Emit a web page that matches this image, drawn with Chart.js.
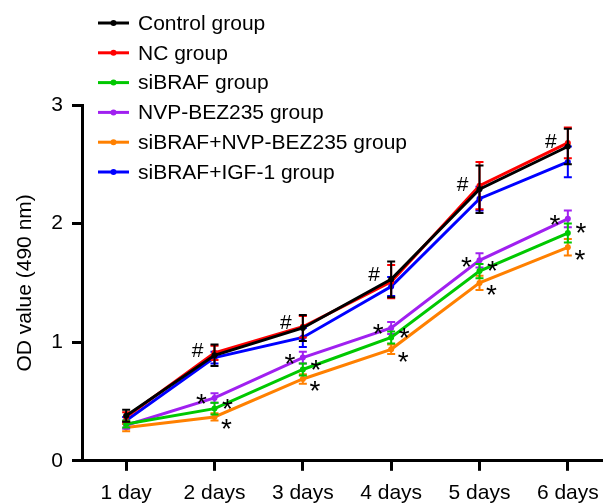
<!DOCTYPE html>
<html>
<head>
<meta charset="utf-8">
<script src="https://cdn.jsdelivr.net/npm/chart.js"></script>
<style>
html, body { margin: 0; padding: 0; background: #fff; overflow: hidden; }
#wrap { width: 603px; height: 503px; overflow: hidden; }
</style>
</head>
<body>
<div id="wrap"><canvas id="chart" width="640" height="516"></canvas></div>
<script>
const days = ['1 day', '2 days', '3 days', '4 days', '5 days', '6 days'];
const yTicks = [0, 1, 2, 3];

const control = [0.38, 0.89, 1.12, 1.53, 2.29, 2.65];
const controlErr = [0.05, 0.09, 0.11, 0.15, 0.20, 0.15];
const nc = [0.37, 0.91, 1.13, 1.51, 2.32, 2.68];
const ncErr = [0.04, 0.06, 0.09, 0.14, 0.20, 0.13];
const sibraf = [0.31, 0.44, 0.77, 1.04, 1.60, 1.92];
const sibrafErr = [0.03, 0.05, 0.05, 0.05, 0.06, 0.08];
const nvp = [0.30, 0.53, 0.87, 1.12, 1.69, 2.04];
const nvpErr = [0.03, 0.04, 0.05, 0.05, 0.06, 0.07];
const combo = [0.28, 0.37, 0.69, 0.94, 1.50, 1.80];
const comboErr = [0.03, 0.03, 0.04, 0.04, 0.06, 0.07];
const igf = [0.34, 0.87, 1.04, 1.47, 2.21, 2.52];
const igfErr = [0.03, 0.05, 0.08, 0.08, 0.10, 0.13];

const FONT = 'Liberation Sans, Arial, Helvetica, sans-serif';

function serie(label, data, errors, color, marks) {
  return {
    label: label,
    data: data,
    errors: errors,
    marks: marks,
    borderColor: color,
    backgroundColor: color,
    borderWidth: 3,
    pointRadius: 3,
    pointHoverRadius: 3,
    pointBorderWidth: 0,
    tension: 0
  };
}

// error bars, drawn right after each line so the stacking order stays the same
const errorBars = {
  id: 'errorBars',
  afterDatasetDraw(chart, args) {
    const ds = chart.data.datasets[args.index];
    const y = chart.scales.y;
    const c = chart.ctx;
    c.save();
    c.strokeStyle = ds.borderColor;
    c.lineWidth = 2;
    args.meta.data.forEach(function (pt, i) {
      const top = y.getPixelForValue(ds.data[i] + ds.errors[i]);
      const bot = y.getPixelForValue(ds.data[i] - ds.errors[i]);
      c.beginPath();
      c.moveTo(pt.x, top); c.lineTo(pt.x, bot);
      c.moveTo(pt.x - 4, top); c.lineTo(pt.x + 4, top);
      c.moveTo(pt.x - 4, bot); c.lineTo(pt.x + 4, bot);
      c.stroke();
    });
    c.restore();
  }
};

// # and * signs next to the points
const signs = {
  id: 'signs',
  afterDraw(chart) {
    const c = chart.ctx;
    c.save();
    c.fillStyle = '#000';
    c.textAlign = 'center';
    c.textBaseline = 'alphabetic';
    chart.data.datasets.forEach(function (ds, d) {
      if (!ds.marks) return;
      const m = ds.marks;
      c.font = m.size + 'px ' + FONT;
      chart.getDatasetMeta(d).data.forEach(function (pt, i) {
        if (i < 1) return;
        c.fillText(m.sign, pt.x + m.dx, pt.y + m.dy + m.shift * m.size);
      });
    });
    c.restore();
  }
};

const legendBox = {
  id: 'legendBox',
  afterDraw(chart) {
    const c = chart.ctx;
    c.save();
    c.font = '21px ' + FONT;
    c.textBaseline = 'middle';
    c.textAlign = 'left';
    chart.data.datasets.forEach(function (ds, i) {
      const y = 23 + i * 29.8;
      c.strokeStyle = ds.borderColor;
      c.lineWidth = 3;
      c.beginPath();
      c.moveTo(98, y); c.lineTo(129, y);
      c.stroke();
      c.fillStyle = ds.borderColor;
      c.beginPath();
      c.arc(113.5, y, 3, 0, Math.PI * 2);
      c.fill();
      c.fillStyle = '#000';
      c.fillText(ds.label, 138, y + 1);
    });
    c.restore();
  }
};

const ctx = document.getElementById('chart');
new Chart(ctx, {
  type: 'line',
  data: {
    labels: days,
    datasets: [
      serie('Control group', control, controlErr, '#000000', {sign: '#', dx: -17, dy: -6, size: 21, shift: 0.35}),
      serie('NC group', nc, ncErr, '#ff0000'),
      serie('siBRAF group', sibraf, sibrafErr, '#00c800', {sign: '*', dx: 13, dy: -7, size: 28, shift: 0.58}),
      serie('NVP-BEZ235 group', nvp, nvpErr, '#a020f0', {sign: '*', dx: -13, dy: -1, size: 28, shift: 0.58}),
      serie('siBRAF+NVP-BEZ235 group', combo, comboErr, '#ff8000', {sign: '*', dx: 12, dy: 5, size: 28, shift: 0.58}),
      serie('siBRAF+IGF-1 group', igf, igfErr, '#0000ff')
    ]
  },
  options: {
    responsive: false,
    animation: false,
    events: [],
    layout: {
      padding: {top: 105, right: 28, bottom: 0, left: 0}
    },
    plugins: {
      legend: {display: false},
      tooltip: {enabled: false}
    },
    scales: {
      x: {
        type: 'category',
        offset: true,
        grid: {drawOnChartArea: false, drawTicks: true, tickLength: 10, tickWidth: 3, tickColor: '#000'},
        border: {display: true, width: 3, color: '#000'},
        ticks: {color: '#000', padding: 10, maxRotation: 0, autoSkip: false, font: {family: FONT, size: 21}}
      },
      y: {
        min: 0,
        max: 3,
        afterBuildTicks: function (scale) {
          scale.ticks = yTicks.map(function (v) { return {value: v}; });
        },
        afterFit: function (scale) { scale.width = 82; },
        grid: {drawOnChartArea: false, drawTicks: true, tickLength: 10, tickWidth: 3, tickColor: '#000'},
        border: {display: true, width: 3, color: '#000'},
        ticks: {color: '#000', padding: 9, font: {family: FONT, size: 21}},
        title: {
          display: true,
          text: 'OD value (490 nm)',
          color: '#000',
          padding: {top: 13, bottom: 0},
          font: {family: FONT, size: 21}
        }
      }
    }
  },
  plugins: [errorBars, signs, legendBox]
});
</script>
</body>
</html>
